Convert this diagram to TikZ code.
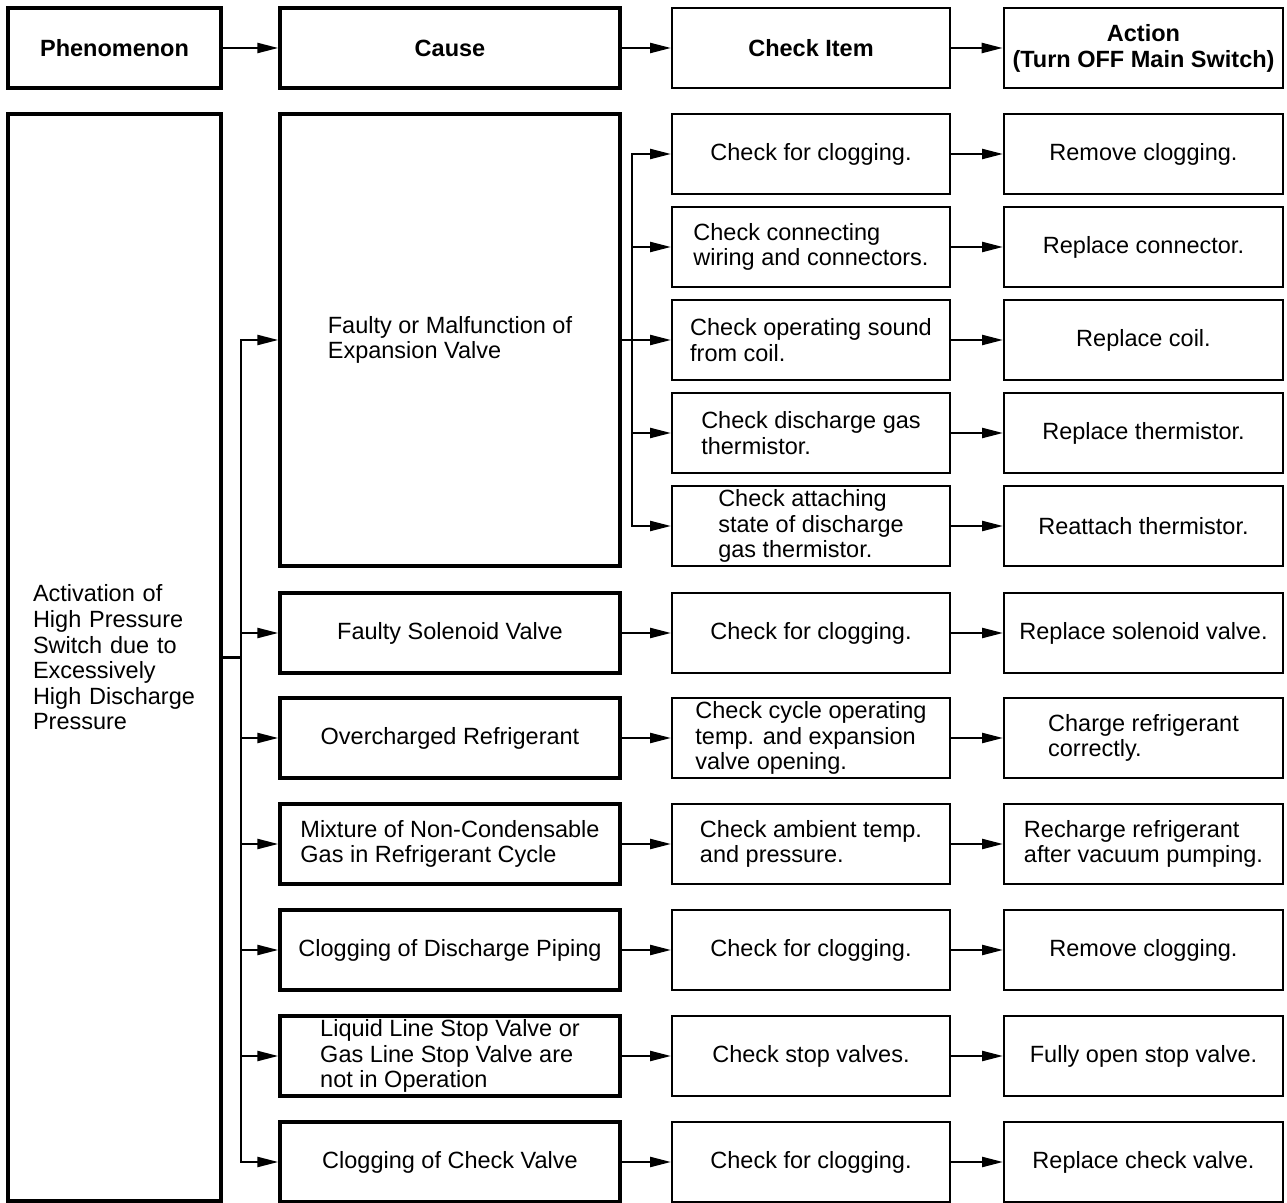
\documentclass[tikz,border=0pt]{standalone}
\usepackage{fontspec}
\setmainfont{Liberation Sans}
\usetikzlibrary{arrows.meta}
\begin{document}
\begin{tikzpicture}[x=0.5pt,y=-0.5pt,
  every node/.style={font=\fontsize{11.75}{12.8}\selectfont, align=left, inner sep=0pt},
  box/.style={draw, line width=1pt, minimum height=40pt},
  tbox/.style={box, line width=1.7pt},
  hdr/.style={font=\fontsize{11.75}{13}\selectfont\bfseries, align=center},
  colP/.style={minimum width=106.5pt},
  colC/.style={minimum width=170pt},
  colK/.style={minimum width=139pt},
  colA/.style={minimum width=139.5pt},
  conn/.style={line width=1.15pt},
  arr/.style={conn, -{Triangle[length=10.5pt,width=5pt]}},
]
\useasboundingbox (0,0) rectangle (1287,1203);

% header
\node[tbox,colP,hdr] (hP) at (114.5,48) {Phenomenon};
\node[tbox,colC,hdr] (hC) at (450,48) {Cause};
\node[box,colK,hdr] (hK) at (811,48) {Check Item};
\node[box,colA,hdr,line width=1.3pt] (hA) at (1143.5,48) {Action\\(Turn OFF Main Switch)};
\draw[arr] (hP.east) -- (hC.west);
\draw[arr] (hC.east) -- (hK.west);
\draw[arr] (hK.east) -- (hA.west);

% phenomenon
\node[tbox, line width=1.9pt, minimum height=543.5pt, text width=81.5pt, inner xsep=12.5pt] (P) at (114.5,657.5)
  {Activation of\\High Pressure\\Switch due to\\Excessively\\High Discharge\\Pressure};

% expansion valve block
\node[tbox,colC,minimum height=226pt] (cE) at (450,340) {Faulty or Malfunction of\\Expansion Valve};
\node[box,colK] (k1) at (811,154) {Check for clogging.};
\node[box,colK] (k2) at (811,247) {Check connecting\\wiring and connectors.};
\node[box,colK] (k3) at (811,340) {Check operating sound\\from coil.};
\node[box,colK] (k4) at (811,433) {Check discharge gas\\thermistor.};
\node[box,colK] (k5) at (811,526) {Check attaching\\state of discharge\\gas thermistor.};
\node[box,colA] (a1) at (1143.5,154) {Remove clogging.};
\node[box,colA] (a2) at (1143.5,247) {Replace connector.};
\node[box,colA] (a3) at (1143.5,340) {Replace coil.};
\node[box,colA] (a4) at (1143.5,433) {Replace thermistor.};
\node[box,colA] (a5) at (1143.5,526) {Reattach thermistor.};

% other causes
\node[tbox,colC] (c6) at (450,633) {Faulty Solenoid Valve};
\node[tbox,colC] (c7) at (450,738) {Overcharged Refrigerant};
\node[tbox,colC] (c8) at (450,844) {Mixture of Non-Condensable\\Gas in Refrigerant Cycle};
\node[tbox,colC] (c9) at (450,950) {Clogging of Discharge Piping};
\node[tbox,colC] (c10) at (450,1056) {Liquid Line Stop Valve or\\Gas Line Stop Valve are\\not in Operation};
\node[tbox,colC] (c11) at (450,1162) {Clogging of Check Valve};

\node[box,colK] (k6) at (811,633) {Check for clogging.};
\node[box,colK] (k7) at (811,738) {Check cycle operating\\temp. and expansion\\valve opening.};
\node[box,colK] (k8) at (811,844) {Check ambient temp.\\and pressure.};
\node[box,colK] (k9) at (811,950) {Check for clogging.};
\node[box,colK] (k10) at (811,1056) {Check stop valves.};
\node[box,colK] (k11) at (811,1162) {Check for clogging.};

\node[box,colA] (a6) at (1143.5,633) {Replace solenoid valve.};
\node[box,colA] (a7) at (1143.5,738) {Charge refrigerant\\correctly.};
\node[box,colA] (a8) at (1143.5,844) {Recharge refrigerant\\after vacuum pumping.};
\node[box,colA] (a9) at (1143.5,950) {Remove clogging.};
\node[box,colA] (a10) at (1143.5,1056) {Fully open stop valve.};
\node[box,colA] (a11) at (1143.5,1162) {Replace check valve.};

% phenomenon bus
\coordinate (pb) at (241,657.5);
\draw[conn] (P.east) -- (pb);
\foreach \c in {cE,c6,c7,c8,c9,c10,c11}
  \draw[arr] (pb) |- (\c.west);

% expansion bus
\coordinate (eb) at (632,340);
\draw[conn] (cE.east) -- (eb);
\foreach \k in {k1,k2,k3,k4,k5}
  \draw[arr] (eb) |- (\k.west);

% cause -> check
\foreach \i in {6,7,8,9,10,11}
  \draw[arr] (c\i.east) -- (k\i.west);
% check -> action
\foreach \i in {1,2,3,4,5,6,7,8,9,10,11}
  \draw[arr] (k\i.east) -- (a\i.west);
\end{tikzpicture}
\end{document}
